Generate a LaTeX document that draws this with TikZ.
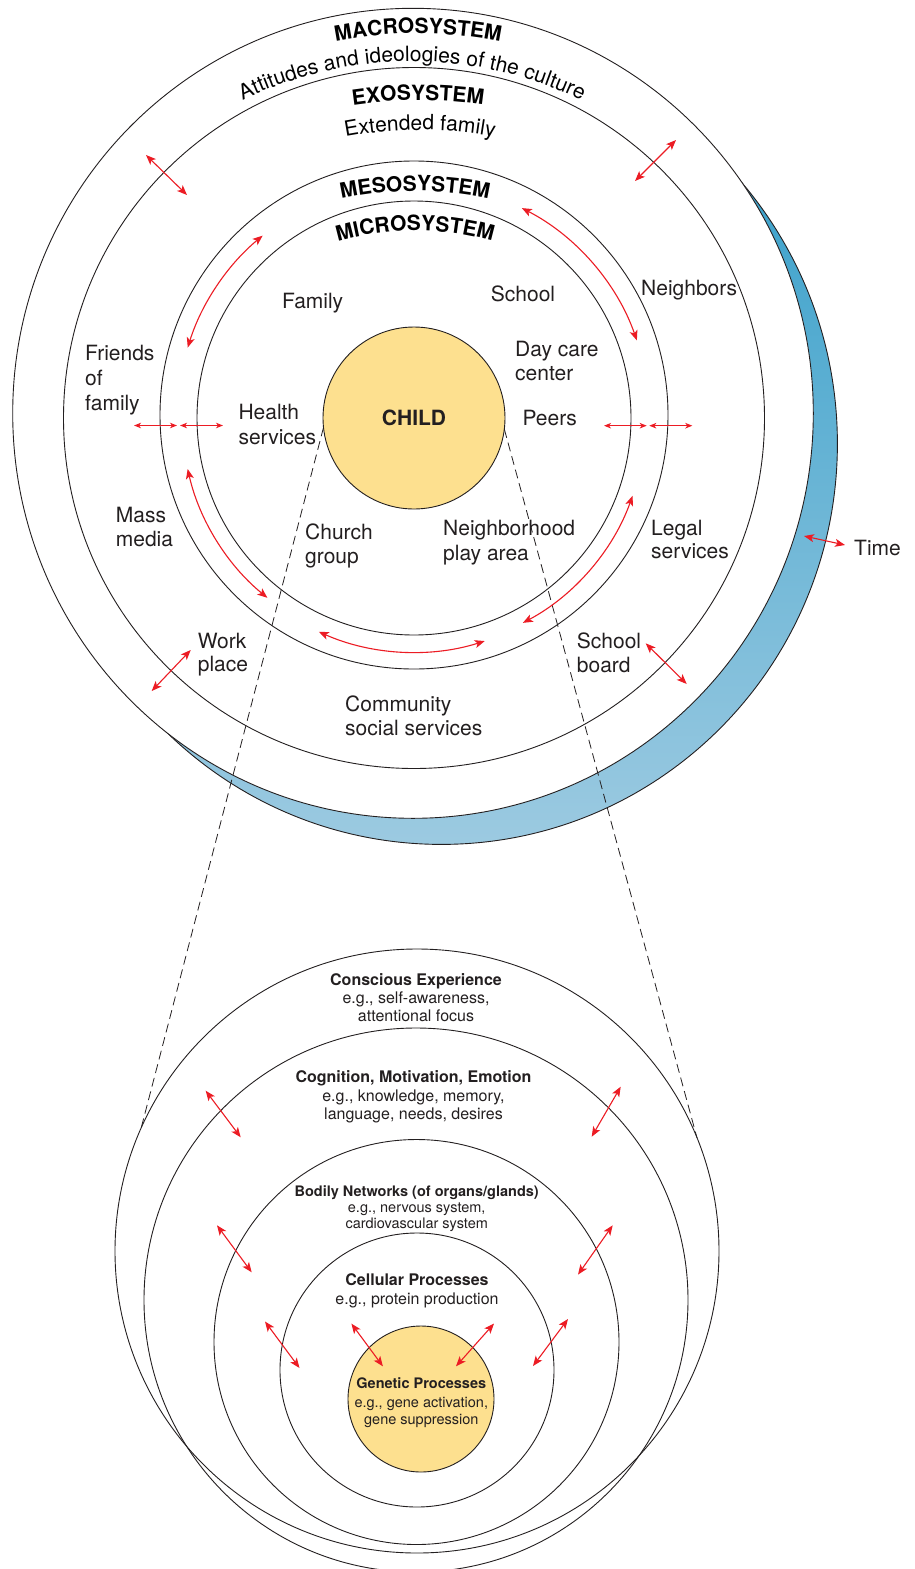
\documentclass[tikz,border=0pt]{standalone}
\usepackage{fontspec}
\setmainfont{TeX Gyre Heros}
\usetikzlibrary{arrows.meta,shapes.geometric,decorations.text}
\definecolor{ink}{HTML}{231F20}
\definecolor{arrowred}{HTML}{EC1C24}
\definecolor{childfill}{HTML}{FDE08F}
\definecolor{timetop}{HTML}{2A9AC7}
\definecolor{timemid}{HTML}{74B6D8}
\definecolor{timebot}{HTML}{9CCAE1}
\begin{document}
\begin{tikzpicture}[x=1pt,y=-1pt,
  ring/.style={circle,draw=ink,line width=0.9pt,inner sep=0pt,outer sep=0pt},
  oval/.style={ellipse,draw=ink,line width=0.9pt,inner sep=0pt,outer sep=0pt},
  lbl/.style={font=\fontsize{21}{25}\selectfont,text=ink,inner sep=0pt,anchor=base west},
  hd/.style={font=\fontsize{16}{19}\selectfont\bfseries,text=ink,inner sep=0pt,anchor=base},
  sub/.style={font=\fontsize{16}{19}\selectfont,text=ink,inner sep=0pt,anchor=base},
  hdsmall/.style={hd,font=\fontsize{14.5}{17}\selectfont\bfseries},
  subsmall/.style={sub,font=\fontsize{14.5}{17}\selectfont},
  dashline/.style={draw=ink,line width=0.8pt,dash pattern=on 9pt off 5pt},
  redarrow/.style={draw=arrowred,line width=1.1pt,>={Stealth[length=10pt,width=8pt,inset=2.5pt]},<->},
  tinyarrow/.style={redarrow,>={Stealth[length=7pt,width=5.5pt,inset=2pt]}},
  curvetitle/.style={decorate,decoration={text along path,text align=center,
     text={|\fontsize{21}{25}\selectfont\bfseries|#1}}},
  curvetext/.style={decorate,decoration={text along path,text align=center,
     text={|\fontsize{21}{25}\selectfont|#1}}}
]
\useasboundingbox (0,0) rectangle (914,1569);

% ---------- time band behind the outer system ----------
\node[oval,minimum width=792,minimum height=801.4,
      top color=timetop,middle color=timemid,bottom color=timebot] (timeband) at (441.4,443.7) {};

% ---------- nested systems around the child ----------
\node[oval,fill=white,minimum width=800.6,minimum height=810] (macro) at (413,413.3) {};
\coordinate (O) at (414,418);
\node[ring,minimum size=701] (exo) at (414,418) {};
\node[ring,minimum size=508] (meso) at (414,415) {};
\node[ring,minimum size=434] (micro) at (414,418) {};
\node[ring,fill=childfill,minimum size=182,text=ink,
      font=\fontsize{21}{25}\selectfont\bfseries] (child) at (414,418) {CHILD};

% ---------- nested levels inside the person ----------
\node[ring,minimum size=604] (conscious) at (417,1251) {};
\node[ring,minimum size=544] (cognition) at (416,1300) {};
\node[ring,minimum size=405] (bodily) at (416.5,1342) {};
\node[ring,minimum size=274] (cellular) at (417,1370) {};
\node[ring,fill=childfill,minimum size=146] (genetic) at (421,1399) {};

% ---------- zoom lines from the child ----------
\draw[dashline] (child.186) -- (conscious.156);
\draw[dashline] (child.-7) -- (conscious.22);

% ---------- curved system titles ----------
\path[curvetitle=MACROSYSTEM] (418,463.5) ++(-150:430) arc[start angle=-150,end angle=-30,radius=430];
\path[curvetext=Attitudes and ideologies of the culture] (412,451.5) ++(-150:390) arc[start angle=-150,end angle=-30,radius=390];
\path[curvetitle=EXOSYSTEM] (418,550.5) ++(-150:450) arc[start angle=-150,end angle=-30,radius=450];
\path[curvetext=Extended family] (420,530) ++(-150:400) arc[start angle=-150,end angle=-30,radius=400];
\path[curvetitle=MESOSYSTEM] (415,541) ++(-150:350) arc[start angle=-150,end angle=-30,radius=350];
\path[curvetitle=MICROSYSTEM] (415,510.5) ++(-150:280) arc[start angle=-150,end angle=-30,radius=280];

% ---------- settings ----------
\node[lbl] (friends1) at (85,360) {Friends};
\node[lbl] (friends2) at (85,385) {of};
\node[lbl] (friends3) at (85,410) {family};
\node[lbl] (health1) at (238.3,419.3) {Health};
\node[lbl] (health2) at (238.3,444) {services};
\node[lbl] (mass1) at (115.7,522.3) {Mass};
\node[lbl] (mass2) at (115.7,546) {media};
\node[lbl] (work1) at (197.7,648.3) {Work};
\node[lbl] (work2) at (197.7,671.7) {place};
\node[lbl] (church1) at (305,539.3) {Church};
\node[lbl] (church2) at (305,563) {group};
\node[lbl] (family) at (282,308.8) {Family};
\node[lbl] (school) at (490.7,301.7) {School};
\node[lbl] (neighbors) at (641,295) {Neighbors};
\node[lbl] (daycare1) at (515,356.7) {Day care};
\node[lbl] (daycare2) at (515,380.7) {center};
\node[lbl] (peers) at (522.3,425) {Peers};
\node[lbl] (play1) at (443,535) {Neighborhood};
\node[lbl] (play2) at (443,560) {play area};
\node[lbl] (legal1) at (651,535) {Legal};
\node[lbl] (legal2) at (651,558.3) {services};
\node[lbl] (board1) at (576.7,648.3) {School};
\node[lbl] (board2) at (576.7,672.7) {board};
\node[lbl] (community1) at (345,711.5) {Community};
\node[lbl] (community2) at (345,735) {social services};
\node[lbl] (time) at (854,555.6) {Time};

% ---------- level descriptions ----------
\node[hd] (con1) at (416,985.3) {Conscious Experience};
\node[sub] (con2) at (416,1003.7) {e.g., self-awareness,};
\node[sub] (con3) at (416,1021.6) {attentional focus};
\node[hd] (cog1) at (413.5,1082.6) {Cognition, Motivation, Emotion};
\node[sub] (cog2) at (413.5,1101.4) {e.g., knowledge, memory,};
\node[sub] (cog3) at (413.5,1119.7) {language, needs, desires};
\node[hdsmall] (bod1) at (416.7,1196.7) {Bodily Networks (of organs/glands)};
\node[subsmall] (bod2) at (416.7,1212.7) {e.g., nervous system,};
\node[subsmall] (bod3) at (416.7,1228.3) {cardiovascular system};
\node[hd] (cel1) at (417,1285) {Cellular Processes};
\node[sub] (cel2) at (417,1304.4) {e.g., protein production};
\node[hdsmall] (gen1) at (421.3,1388.5) {Genetic Processes};
\node[subsmall] (gen2) at (421.3,1407.7) {e.g., gene activation,};
\node[subsmall] (gen3) at (421.3,1424.7) {gene suppression};

% ---------- arrows between the systems ----------
\coordinate (a1s) at (146,155);   \coordinate (a1e) at (187,195);
\coordinate (a2s) at (676,140);   \coordinate (a2e) at (635,181);
\coordinate (a3s) at (134,425.5); \coordinate (a3e) at (177,425.5);
\coordinate (a4s) at (180,425.5); \coordinate (a4e) at (223,425.5);
\coordinate (a5s) at (604,425.7); \coordinate (a5e) at (646.7,425.7);
\coordinate (a6s) at (649.3,425.7); \coordinate (a6e) at (692.3,425.7);
\coordinate (a7s) at (190.7,650); \coordinate (a7e) at (151.7,691);
\coordinate (a8s) at (645.7,643.3); \coordinate (a8e) at (686.7,684);
\coordinate (a9s) at (804,536);   \coordinate (a9e) at (845,545);
\draw[redarrow] (a1s) -- (a1e);
\draw[redarrow] (a2s) -- (a2e);
\draw[tinyarrow] (a3s) -- (a3e);
\draw[tinyarrow] (a4s) -- (a4e);
\draw[tinyarrow] (a5s) -- (a5e);
\draw[tinyarrow] (a6s) -- (a6e);
\draw[redarrow] (a7s) -- (a7e);
\draw[redarrow] (a8s) -- (a8e);
\draw[redarrow] (a9s) -- (a9e);

% mesosystem links running around the ring
\draw[redarrow] ([shift={(-129.7:237)}]O) arc[start angle=-129.7,end angle=-162.7,radius=237];
\draw[redarrow] ([shift={(-62.8:236)}]O) arc[start angle=-62.8,end angle=-19.2,radius=236];
\draw[redarrow] ([shift={(167.3:232)}]O) arc[start angle=167.3,end angle=129.2,radius=232];
\draw[redarrow] ([shift={(114:234)}]O) arc[start angle=114,end angle=72.4,radius=234];
\draw[redarrow] ([shift={(19.6:232)}]O) arc[start angle=19.6,end angle=62,radius=232];

% ---------- arrows between the levels ----------
\coordinate (b1s) at (205.7,1090.7); \coordinate (b1e) at (240.7,1137.3);
\coordinate (b2s) at (620.7,1086.7); \coordinate (b2e) at (591.7,1136.7);
\coordinate (b3s) at (217,1225.3);   \coordinate (b3e) at (251.7,1272.3);
\coordinate (b4s) at (612.7,1225.3); \coordinate (b4e) at (578,1274.6);
\coordinate (b5s) at (265,1321.5);   \coordinate (b5e) at (299.5,1368);
\coordinate (b6s) at (568,1319);     \coordinate (b6e) at (533,1366);
\coordinate (b7s) at (351.4,1323.6); \coordinate (b7e) at (382.9,1366.3);
\coordinate (b8s) at (494,1323.6);   \coordinate (b8e) at (456,1366.3);
\foreach \k in {1,...,8} {\draw[redarrow] (b\k s) -- (b\k e);}
\end{tikzpicture}
\end{document}
